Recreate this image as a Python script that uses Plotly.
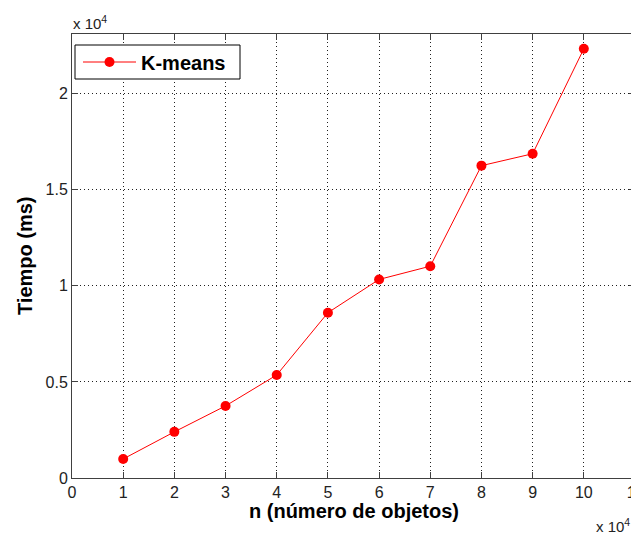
import plotly.graph_objects as go

n_objetos = [10000, 20000, 30000, 40000, 50000, 60000, 70000, 80000, 90000, 100000]
tiempo_ms = [990, 2400, 3750, 5360, 8600, 10330, 11020, 16250, 16870, 22330]

x_tickvals = [i * 10000 for i in range(12)]
x_ticktext = [str(i) for i in range(12)]
y_tickvals = [0, 5000, 10000, 15000, 20000]
y_ticktext = ["0", "0.5", "1", "1.5", "2"]

FONT = "Liberation Sans, Arial, sans-serif"

# page body has an 8px default margin; figure sized so the plot area lands at x 72-635, y 34-478
W, H = 631, 530
ML, MR, MT, MB = 64, 4, 26, 60
PW = W - ML - MR
PH = H - MT - MB


def px_x(x):  # page pixel -> paper x
    return (x - 8 - ML) / PW


def px_y(y):  # page pixel -> paper y
    return 1 - (y - 8 - MT) / PH


fig = go.Figure()
fig.add_trace(go.Scatter(
    x=n_objetos, y=tiempo_ms, mode="lines+markers", name="K-means",
    line=dict(color="#ff0000", width=1),
    marker=dict(color="#ff0000", size=10),
))

axis_common = dict(
    showline=True, linecolor="#404040", linewidth=1, mirror="ticks",
    ticks="inside", ticklen=6, tickcolor="#404040",
    showgrid=True, gridcolor="#202020", gridwidth=1, griddash="1px,3px",
    zeroline=False, tickfont=dict(family=FONT, size=16, color="#222222"),
    ticklabeloverflow="allow", automargin=False,
)

fig.update_xaxes(range=[0, 110000], tickvals=x_tickvals, ticktext=x_ticktext, **axis_common)
fig.update_yaxes(range=[0, 23100], tickvals=y_tickvals, ticktext=y_ticktext, **axis_common)

fig.update_layout(
    width=W, height=H,
    margin=dict(l=ML, r=MR, t=MT, b=MB, autoexpand=False),
    paper_bgcolor="white", plot_bgcolor="white",
    font=dict(family=FONT, color="black"),
    showlegend=True,
    legend=dict(
        x=px_x(78), y=px_y(62), xanchor="left", yanchor="middle",
        borderwidth=0, bgcolor="rgba(0,0,0,0)",
        font=dict(family=FONT, size=20, color="black", weight="bold"),
        itemwidth=53,
    ),
    shapes=[
        dict(type="rect", xref="paper", yref="paper",
             x0=px_x(75), x1=px_x(240), y0=px_y(79), y1=px_y(45),
             line=dict(color="black", width=1), fillcolor="white", layer="above"),
    ],
    annotations=[
        dict(text="x 10<sup>4</sup>", xref="paper", yref="paper", x=0, y=1,
             xanchor="left", yanchor="bottom", yshift=0, xshift=-1, showarrow=False,
             font=dict(family=FONT, size=15, color="#222222")),
        dict(text="x 10<sup>4</sup>", xref="paper", yref="paper", x=1, y=0,
             xanchor="right", yanchor="top", yshift=-36, xshift=-3, showarrow=False,
             font=dict(family=FONT, size=15, color="#222222")),
        dict(text="<b>n (número de objetos)</b>", xref="paper", yref="paper", x=0.5, y=0,
             xanchor="center", yanchor="middle", yshift=-33, showarrow=False,
             font=dict(family=FONT, size=20, color="black")),
        dict(text="<b>Tiempo (ms)</b>", xref="paper", yref="paper", x=0, y=0.5,
             xanchor="center", yanchor="middle", xshift=-47, textangle=-90, showarrow=False,
             font=dict(family=FONT, size=20, color="black")),
    ],
)

fig.write_html("out.html")
